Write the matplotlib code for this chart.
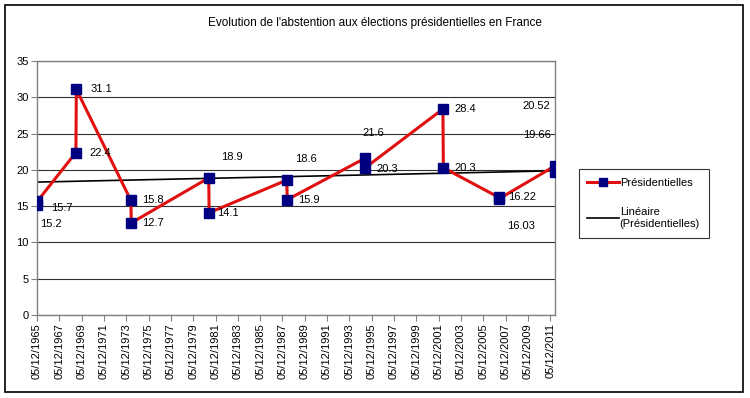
import numpy as np
import matplotlib
matplotlib.use('Agg')
import matplotlib.pyplot as plt
import matplotlib.dates as mdates
from matplotlib.patches import Rectangle
from matplotlib.lines import Line2D
from datetime import date

plt.rcParams['font.family'] = ['Liberation Sans', 'DejaVu Sans']

# election dates (1st and 2nd round) and abstention rate (%)
dates = [date(1965, 12, 5), date(1965, 12, 19),
         date(1969, 6, 1), date(1969, 6, 15),
         date(1974, 5, 5), date(1974, 5, 19),
         date(1981, 4, 26), date(1981, 5, 10),
         date(1988, 4, 24), date(1988, 5, 8),
         date(1995, 4, 23), date(1995, 5, 7),
         date(2002, 4, 21), date(2002, 5, 5),
         date(2007, 4, 22), date(2007, 5, 6),
         date(2012, 4, 22), date(2012, 5, 6)]
abst = [15.2, 15.7, 22.4, 31.1, 15.8, 12.7, 18.9, 14.1, 18.6, 15.9,
        21.6, 20.3, 28.4, 20.3, 16.22, 16.03, 20.52, 19.66]
labels = ['15.2', '15.7', '22.4', '31.1', '15.8', '12.7', '18.9', '14.1', '18.6', '15.9',
          '21.6', '20.3', '28.4', '20.3', '16.22', '16.03', '20.52', '19.66']
tick_years = list(range(1965, 2012, 2))

# label offsets (points) - mimic excel's odd placement
offs = [(2, -14), (10, -5), (10, 0), (10, 0), (8, 0), (8, 0), (9, 15), (6, 0),
        (6, 15), (8, 0), (-2, 18), (8, -1), (8, 0), (8, 0), (7, 0), (6, -20),
        (-23, 43), (-23, 27)]

fig = plt.figure(figsize=(7.5, 3.98), dpi=100)
ax = fig.add_axes([0.0493, 0.2085, 0.6907, 0.638])

x = mdates.date2num(dates)
ax.plot(x, abst, '-', color='#E01010', lw=2.2, zorder=3)
ax.plot(x, abst, 's', color='#000080', ms=7.5, zorder=4)

# linear trend (on date serials, like excel)
k, b = np.polyfit(x, abst, 1)
xt = np.array([x[0], x[-1]])
ax.plot(xt, k * xt + b, color='black', lw=1.2, zorder=2)

for xi, yi, lab, (dx, dy) in zip(x, abst, labels, offs):
    ax.annotate(lab, (xi, yi), xytext=(dx, dy), textcoords='offset points',
                ha='left', va='center', fontsize=8, zorder=5)

ax.set_xlim(mdates.date2num(date(1965, 12, 5)), x[-1])
ax.set_ylim(0, 35)
ax.set_yticks(range(0, 36, 5))
tk = [mdates.date2num(date(y, 12, 5)) for y in tick_years]
ax.set_xticks(tk)
ax.set_xticklabels([f'05/12/{y}' for y in tick_years], rotation=90, fontsize=8)
ax.tick_params(axis='y', labelsize=8, length=4, color='#808080', pad=2)
ax.tick_params(axis='x', length=4, color='#808080', pad=2)
ax.grid(axis='y', color='#303030', lw=0.8)
ax.set_axisbelow(True)
for s in ax.spines.values():
    s.set_color('#808080')
    s.set_linewidth(1.0)

h = [Line2D([], [], color='#E01010', lw=2.2, marker='s', mfc='#000080', mec='#000080', ms=5.5),
     Line2D([], [], color='black', lw=1.2)]
leg = fig.legend(h, ['Présidentielles', 'Linéaire\n(Présidentielles)'],
                 loc='center left', bbox_to_anchor=(0.764, 0.489), fontsize=8,
                 frameon=True, fancybox=False, edgecolor='black', handlelength=2.8,
                 handletextpad=0.1, labelspacing=1.7, borderpad=0.8)
leg.get_frame().set_linewidth(0.8)

fig.text(0.5, 0.942, "Evolution de l'abstention aux élections présidentielles en France",
         ha='center', va='center', fontsize=8.5)
fig.patches.append(Rectangle((0.007, 0.015), 0.984, 0.972, transform=fig.transFigure,
                             fill=False, edgecolor='black', lw=1.2))

fig.savefig('out.png', dpi=100)
